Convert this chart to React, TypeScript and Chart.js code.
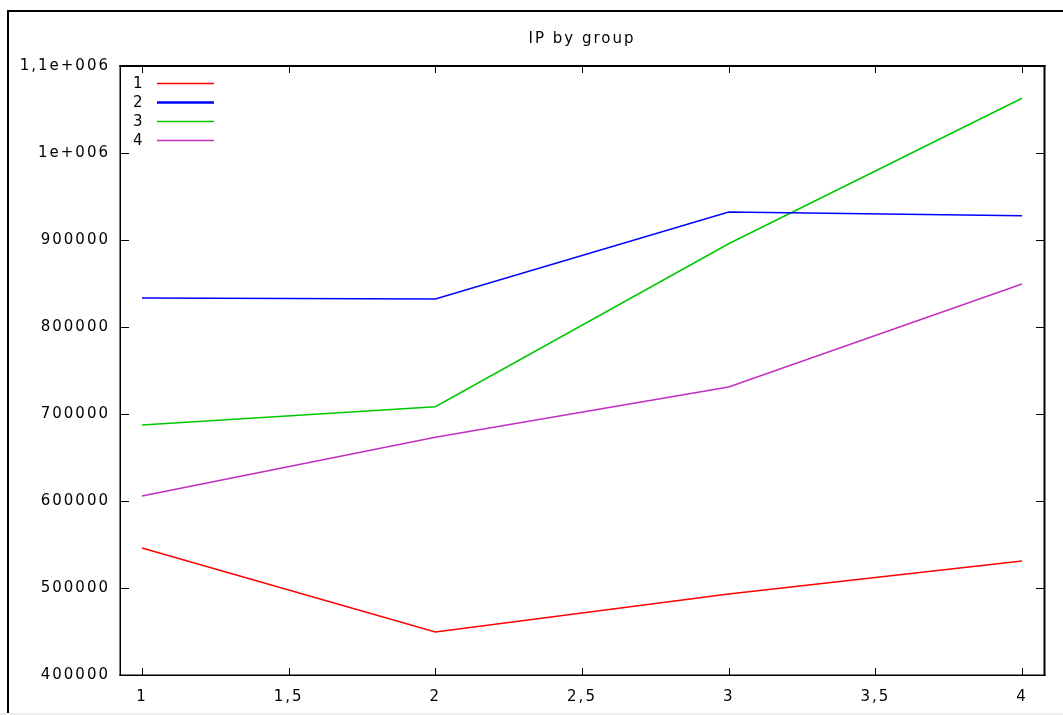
import React, { useEffect, useRef } from "react";
import { Chart, registerables } from "chart.js";

Chart.register(...registerables);

const chartTitle = "IP by group";
const groupX = [1, 2, 3, 4];
const seriesNames = ["1", "2", "3", "4"];
const series1 = [546000, 449400, 493000, 531000];
const series2 = [833300, 832200, 932200, 927900];
const series3 = [687400, 708400, 895700, 1062900];
const series4 = [605700, 673300, 731000, 849400];
const xTicks = [1, 1.5, 2, 2.5, 3, 3.5, 4];
const yTicks = [400000, 500000, 600000, 700000, 800000, 900000, 1000000, 1100000];

const seriesValues = [series1, series2, series3, series4];
const seriesColors = ["#ff0000", "#0000ff", "#00c800", "#c030c0"];
const legendWidths = [1.6, 2.4, 1.6, 1.6];

const FONT = "'DejaVu Sans', Verdana, sans-serif";

function fmtY(v: number): string {
  if (v >= 1000000) return String(v / 1000000).replace(".", ",") + "e+006";
  return String(v);
}

const framePlugin = {
  id: "gnuFrame",
  beforeDraw(chart: any) {
    const ctx = chart.ctx;
    ctx.save();
    ctx.fillStyle = "#ffffff";
    ctx.fillRect(0, 0, chart.width, chart.height);
    ctx.fillStyle = "#f0f0f0";
    ctx.fillRect(0, 713, chart.width, 2);
    ctx.fillStyle = "#000000";
    ctx.fillRect(7, 10, chart.width - 7, 2);
    ctx.fillRect(7, 10, 2, 703);
    ctx.restore();
    (ctx as any).letterSpacing = "2px";
  },
  afterDatasetsDraw(chart: any) {
    const ctx = chart.ctx;
    const a = chart.chartArea;
    const xs = chart.scales.x;
    const ys = chart.scales.y;
    ctx.save();
    ctx.strokeStyle = "#000";
    ctx.lineWidth = 1;
    ctx.beginPath();
    xs.ticks.forEach((t: any) => {
      const px = Math.round(xs.getPixelForValue(t.value)) + 0.5;
      ctx.moveTo(px, a.bottom);
      ctx.lineTo(px, a.bottom - 7);
      ctx.moveTo(px, a.top);
      ctx.lineTo(px, a.top + 7);
    });
    ys.ticks.forEach((t: any) => {
      const py = Math.round(ys.getPixelForValue(t.value)) + 0.5;
      ctx.moveTo(a.left, py);
      ctx.lineTo(a.left + 9, py);
      ctx.moveTo(a.right, py);
      ctx.lineTo(a.right - 8, py);
    });
    ctx.stroke();
    // plot border
    ctx.fillStyle = "#000";
    ctx.fillRect(a.left - 0.5, a.top - 1, a.right - a.left + 2, 2);
    ctx.fillRect(a.left - 0.5, a.top - 1, 1.5, a.bottom - a.top + 2);
    ctx.fillRect(a.left - 0.5, a.bottom - 0.5, a.right - a.left + 2, 1.5);
    ctx.fillRect(a.right - 0.5, a.top - 1, 2, a.bottom - a.top + 2);
    // legend
    ctx.font = "15px " + FONT;
    ctx.textBaseline = "middle";
    ctx.textAlign = "left";
    chart.data.datasets.forEach((ds: any, i: number) => {
      const y = 83 + i * 19;
      ctx.fillStyle = "#000";
      ctx.fillText(ds.label, 133, y + 1);
      ctx.strokeStyle = seriesColors[i];
      ctx.lineWidth = legendWidths[i];
      ctx.beginPath();
      ctx.moveTo(157, y + 0.5);
      ctx.lineTo(214, y + 0.5);
      ctx.stroke();
    });
    ctx.restore();
  },
};

export default function App() {
  const ref = useRef<HTMLCanvasElement | null>(null);
  useEffect(() => {
    if (!ref.current) return;
    const datasets = seriesValues.map((vals, i) => ({
      label: seriesNames[i],
      data: groupX.map((x, j) => ({ x, y: vals[j] })),
      borderColor: seriesColors[i],
      backgroundColor: seriesColors[i],
      borderWidth: 1.5,
      pointRadius: 0,
      tension: 0,
      fill: false,
    }));
    const chart = new Chart(ref.current, {
      type: "line",
      data: { datasets },
      plugins: [framePlugin],
      options: {
        responsive: false,
        animation: false,
        devicePixelRatio: 1,
        layout: { padding: { left: 0, right: 19, top: 0, bottom: 0 } },
        plugins: {
          legend: { display: false },
          tooltip: { enabled: false },
          title: {
            display: true,
            fullSize: false,
            text: chartTitle,
            color: "#000",
            font: { family: FONT, size: 15, weight: "normal" },
            padding: { top: 30, bottom: 18 },
          },
        },
        scales: {
          x: {
            type: "linear",
            min: 0.925,
            max: 4.075,
            grid: { display: false, drawTicks: false },
            border: { display: false },
            afterBuildTicks: (s: any) => {
              s.ticks = xTicks.map((v) => ({ value: v }));
            },
            afterFit: (s: any) => {
              s.height = 40;
            },
            ticks: {
              autoSkip: false,
              maxRotation: 0,
              padding: 13,
              color: "#000",
              font: { family: FONT, size: 15 },
              callback: (v: any) => String(v).replace(".", ","),
            },
          },
          y: {
            type: "linear",
            min: 400000,
            max: 1100000,
            grid: { display: false, drawTicks: false },
            border: { display: false },
            afterBuildTicks: (s: any) => {
              s.ticks = yTicks.map((v) => ({ value: v }));
            },
            afterFit: (s: any) => {
              s.width = 120;
            },
            ticks: {
              autoSkip: false,
              padding: 10,
              color: "#000",
              font: { family: FONT, size: 15 },
              callback: (v: any) => fmtY(Number(v)),
            },
          },
        },
      },
    } as any);
    return () => chart.destroy();
  }, []);
  return (
    <canvas
      ref={ref}
      width={1063}
      height={715}
      style={{ position: "fixed", left: 0, top: 0, width: 1063, height: 715 }}
    />
  );
}
